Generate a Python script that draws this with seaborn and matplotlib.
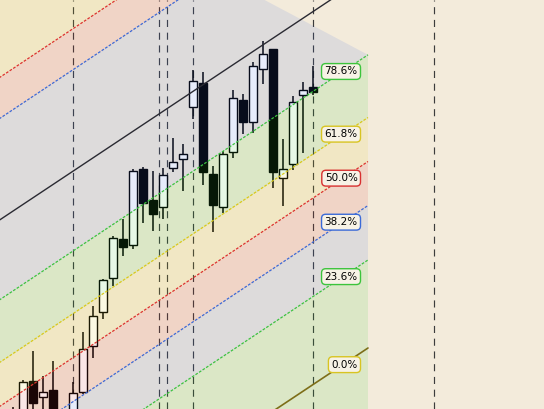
import numpy as np
import pandas as pd
import matplotlib.pyplot as plt
import seaborn as sns
from matplotlib.patches import Polygon

# candle data (bar index, OHLC)
bars   = list(range(1, 32))
opens  = [1.2984, 1.2994, 1.3028, 1.3012, 1.3019, 1.2993, 1.2994, 1.3017, 1.3063, 1.3097,
          1.3131, 1.3170, 1.3164, 1.3240, 1.3209, 1.3202, 1.3241, 1.3250, 1.3302, 1.3326,
          1.3235, 1.3202, 1.3257, 1.3309, 1.3287, 1.3340, 1.3360, 1.3231, 1.3245, 1.3314,
          1.3322]
highs  = [1.3002, 1.3029, 1.3058, 1.3033, 1.3048, 1.2997, 1.3027, 1.3077, 1.3103, 1.3130,
          1.3173, 1.3190, 1.3240, 1.3242, 1.3238, 1.3241, 1.3271, 1.3265, 1.3339, 1.3337,
          1.3243, 1.3258, 1.3319, 1.3315, 1.3347, 1.3368, 1.3360, 1.3270, 1.3313, 1.3327,
          1.3343]
lows   = [1.2965, 1.2989, 1.2997, 1.2997, 1.2989, 1.2979, 1.2991, 1.3015, 1.3051, 1.3090,
          1.3123, 1.3153, 1.3160, 1.3186, 1.3178, 1.3190, 1.3237, 1.3218, 1.3290, 1.3224,
          1.3177, 1.3196, 1.3251, 1.3275, 1.3276, 1.3325, 1.3221, 1.3203, 1.3239, 1.3256,
          1.3314]
closes = [1.2972, 1.3027, 1.3006, 1.3017, 1.2994, 1.2985, 1.3016, 1.3060, 1.3093, 1.3129,
          1.3171, 1.3162, 1.3238, 1.3206, 1.3195, 1.3234, 1.3247, 1.3255, 1.3328, 1.3237,
          1.3204, 1.3255, 1.3311, 1.3287, 1.3343, 1.3355, 1.3237, 1.3240, 1.3307, 1.3319,
          1.3317]

# vertical separators (bar positions)
separators = [7, 15.63, 16.43, 19, 31, 43.1]

# fibonacci channel: 0% line anchor, slope per bar, 100% height, right end
chan_x0 = 36.5
chan_p0 = 1.3061
chan_slope = 0.000665
chan_height = 0.0373
chan_cut_slope = 0.00053

band_levels = [-0.236, 0.0, 0.236, 0.382, 0.5, 0.618, 0.786, 1.0, 1.272, 1.382, 1.618]
band_colors = ['#32cd32', '#32cd32', '#4169e1', '#dc3232', '#e6d21e',
               '#32cd32', '#4169e1', '#4169e1', '#dc3232', '#e6d21e']

line_levels = [0.236, 0.382, 0.5, 0.618, 0.786, 1.272, 1.382]
line_colors = ['#3cc43c', '#3a6ad8', '#dd3030', '#dcc818', '#3cc43c', '#3a6ad8', '#dd3030']

label_levels = [0.786, 0.618, 0.5, 0.382, 0.236, 0.0]
label_texts  = ['78.6%', '61.8%', '50.0%', '38.2%', '23.6%', '0.0%']
label_colors = ['#3cc43c', '#d8c422', '#d83030', '#3a6ad8', '#3cc43c', '#d8c422']

df = pd.DataFrame({'bar': bars, 'open': opens, 'high': highs, 'low': lows, 'close': closes})


def chan_price(x, level):
    return chan_p0 + chan_slope * (np.asarray(x) - chan_x0) + level * chan_height


sns.set_theme(style='white')
bg = '#f3ebdb'
fig = plt.figure(figsize=(5.44, 4.09), dpi=100)
fig.patch.set_facecolor(bg)
ax = fig.add_axes([0, 0, 1, 1])
ax.set_facecolor(bg)
ax.set_xlim(-0.3, 54.1)
ax.set_ylim(1.3000, 1.3409)
ax.axis('off')

# candles
bull = df['close'] >= df['open']
ax.vlines(df['bar'], df['low'], df['high'], color='black', lw=1.1, zorder=2)
ax.bar(df['bar'], (df['close'] - df['open']).abs(), bottom=df[['open', 'close']].min(axis=1),
       width=0.8, color=np.where(bull, 'white', 'black'), edgecolor='black', lw=1.0, zorder=2.1)

# channel fills (over candles, semi transparent)
xs = np.array([-2.0, chan_x0])
p786 = chan_price(chan_x0, 0.786)
clip = Polygon([(-5, 1.25), (chan_x0, 1.25), (chan_x0, p786),
                (chan_x0 - 30, p786 + 30 * chan_cut_slope), (-5, 1.45)],
               closed=True, transform=ax.transData)
for lo, hi, col in zip(band_levels[:-1], band_levels[1:], band_colors):
    coll = ax.fill_between(xs, chan_price(xs, lo), chan_price(xs, hi), color=col,
                           alpha=0.12, lw=0, zorder=3)
    coll.set_clip_path(clip)

# channel lines
for lev, col in zip(line_levels, line_colors):
    ax.plot(xs, chan_price(xs, lev), color=col, lw=0.9, ls=(0, (2.2, 1.2)), zorder=3.5)
sns.lineplot(x=xs, y=chan_price(xs, 1.0), ax=ax, color='#2a2a32', lw=1.0, zorder=4)
sns.lineplot(x=xs, y=chan_price(xs, 0.0), ax=ax, color='#7d6e18', lw=1.2, zorder=4)

# separators
for sx in separators:
    ax.axvline(sx, color='#3c3c3c', lw=0.85, ls=(0, (6.0, 4.8)), zorder=1.5)

# level labels
for lev, txt, col in zip(label_levels, label_texts, label_colors):
    ax.annotate(txt, xy=(chan_x0, chan_price(chan_x0, lev)), xytext=(-7.5, -12),
                textcoords='offset points', ha='right', va='center', fontsize=7.5,
                color='black', zorder=6,
                bbox=dict(boxstyle='round,pad=0.28,rounding_size=0.4', fc='#f7f2e6',
                          ec=col, lw=1.0))

fig.savefig('out.png', dpi=100, facecolor=bg)
